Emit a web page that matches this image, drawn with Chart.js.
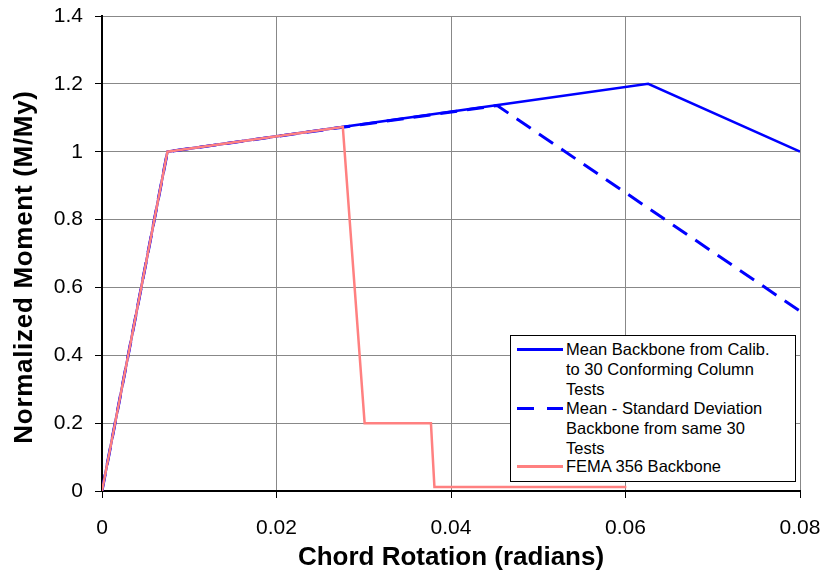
<!DOCTYPE html>
<html>
<head>
<meta charset="utf-8">
<script src="https://cdn.jsdelivr.net/npm/chart.js@4"></script>
<style>
  body { margin: 0; background: #fff; }
  #wrap { position: relative; width: 832px; height: 573px; }
  #legend {
    position: absolute; left: 510px; top: 335px; width: 284px; height: 145px;
    border: 1px solid #000; background: #fff;
    font-family: "Liberation Sans", Arial, sans-serif; font-size: 16.5px; color: #000;
  }
  .entry { position: absolute; left: 0; }
  .entry .txt { position: absolute; left: 55px; line-height: 20px; white-space: nowrap; }
  .sw { position: absolute; left: 6px; width: 46px; height: 3px; }
</style>
</head>
<body>
<div id="wrap">
  <canvas id="moment_chart" width="832" height="573"></canvas>
  <div id="legend">
    <div class="entry" style="top:3px">
      <div class="sw" style="top:9px;background:#0000ff"></div>
      <div class="txt">Mean Backbone from Calib.<br>to 30 Conforming Column<br>Tests</div>
    </div>
    <div class="entry" style="top:62px">
      <div class="sw" style="top:9px;background:linear-gradient(90deg,#0000ff 0 17px,transparent 17px 30px,#0000ff 30px 46px)"></div>
      <div class="txt">Mean - Standard Deviation<br>Backbone from same 30<br>Tests</div>
    </div>
    <div class="entry" style="top:120px">
      <div class="sw" style="top:9px;background:#ff8080"></div>
      <div class="txt">FEMA 356 Backbone</div>
    </div>
  </div>
</div>
<script>
const meanX = [0, 0.0075, 0.0626, 0.08];
const meanY = [0, 1.0, 1.2, 1.0];
const sdX = [0, 0.0075, 0.0453, 0.08];
const sdY = [0, 1.0, 1.136, 0.53];
const femaX = [0, 0.0075, 0.0276, 0.0301, 0.0377, 0.0381, 0.0601];
const femaY = [0, 1.0, 1.073, 0.2, 0.2, 0.012, 0.012];
const xTicks = [0, 0.02, 0.04, 0.06, 0.08];
const yTitle = "Normalized Moment (M/My)";

const pts = (xs, ys) => xs.map((x, i) => ({ x: x, y: ys[i] }));
const font = "'Liberation Sans', Arial, sans-serif";

// y title drawn by hand, the original is spaced out wider than the font
const yTitlePlugin = {
  id: "yTitle",
  afterDraw: (chart) => {
    let ctx = chart.ctx;
    ctx.save();
    ctx.translate(25, 267);
    ctx.rotate(-Math.PI / 2);
    ctx.font = `bold 26px ${font}`;
    ctx.letterSpacing = "0.7px";
    ctx.fillStyle = "#000";
    ctx.textAlign = "center";
    ctx.textBaseline = "middle";
    ctx.fillText(yTitle, 0, 0);
    ctx.restore();
  },
};

const displayChart = () => {
  let canvas = document.querySelector("#moment_chart");
  const config = {
    type: "line",
    data: {
      datasets: [
        {
          label: "FEMA 356 Backbone",
          data: pts(femaX, femaY),
          borderColor: "#ff8080",
          borderWidth: 2.5,
          pointRadius: 0,
          order: 1,
        },
        {
          label: "Mean - Standard Deviation Backbone from same 30 Tests",
          data: pts(sdX, sdY),
          borderColor: "#0000ff",
          borderWidth: 3,
          borderDash: [17, 10],
          pointRadius: 0,
          order: 3,
        },
        {
          label: "Mean Backbone from Calib. to 30 Conforming Column Tests",
          data: pts(meanX, meanY),
          borderColor: "#0000ff",
          borderWidth: 2.5,
          pointRadius: 0,
          order: 2,
        },
      ],
    },
    options: {
      responsive: false,
      animation: false,
      layout: { padding: { left: 0, right: 32, top: 16, bottom: 0 } },
      plugins: { legend: { display: false }, tooltip: { enabled: false } },
      scales: {
        x: {
          type: "linear",
          min: 0,
          max: 0.08,
          afterBuildTicks: (s) => { s.ticks = xTicks.map((v) => ({ value: v })); },
          afterFit: (s) => { s.height = 82; s.paddingLeft = 0; s.paddingRight = 0; },
          ticks: {
            color: "#000",
            font: { family: font, size: 21 },
            padding: 18,
            maxRotation: 0,
            callback: (v) => String(v),
          },
          grid: { color: "#888", lineWidth: 1, tickLength: 7, tickColor: "#000" },
          border: { color: "#000", width: 2 },
          title: {
            display: true,
            text: "Chord Rotation (radians)",
            color: "#000",
            font: { family: font, size: 26, weight: "bold" },
            padding: { top: 0, bottom: 0 },
          },
        },
        y: {
          min: 0,
          max: 1.4,
          afterFit: (s) => { s.width = 102; s.paddingTop = 0; s.paddingBottom = 0; },
          ticks: {
            stepSize: 0.2,
            color: "#000",
            font: { family: font, size: 21 },
            padding: 12,
            callback: (v) => String(Math.round(v * 10) / 10),
          },
          grid: { color: "#888", lineWidth: 1, tickLength: 7, tickColor: "#000" },
          border: { color: "#000", width: 2 },
        },
      },
    },
    plugins: [yTitlePlugin],
  };
  new Chart(canvas, config);
};

displayChart();
</script>
</body>
</html>
